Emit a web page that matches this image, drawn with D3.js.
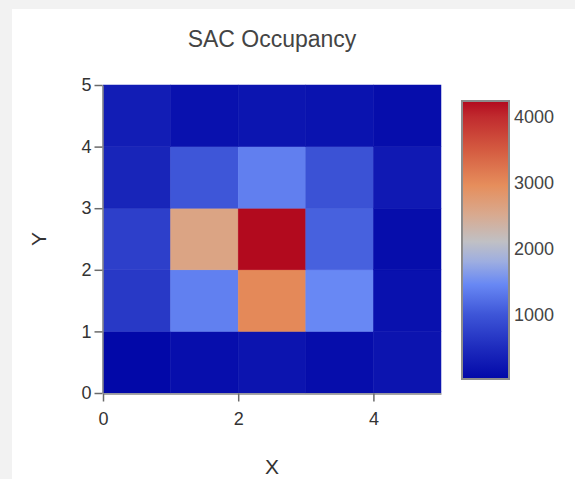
<!DOCTYPE html>
<html>
<head>
<meta charset="utf-8">
<script src="https://cdn.jsdelivr.net/npm/d3@7"></script>
<style>
  body { margin: 0; background: #f2f2f2; }
  svg { display: block; }
  text { font-family: "Liberation Sans", Arial, sans-serif; }
</style>
</head>
<body>
<svg id="chart" width="575" height="479"></svg>
<script>
// occupancy per cell, rows from y=0 (bottom) to y=4 (top), columns x=0..4
const xBins = [0, 1, 2, 3, 4]
const yBins = [0, 1, 2, 3, 4]
const occupancy = [
    [15, 100, 180, 80, 180],
    [660, 1380, 3000, 1450, 140],
    [730, 2600, 4232, 1100, 80],
    [400, 1000, 1370, 950, 250],
    [300, 140, 190, 160, 80],
]
const xTicks = [0, 2, 4]
const yTicks = [0, 1, 2, 3, 4, 5]
const cbTicks = [1000, 2000, 3000, 4000]

// colour stops (value -> colour)
const stopValues = [15, 500, 1000, 1450, 1800, 2100, 2500, 2950, 3500, 4000, 4232]
const stopColors = ["#0208a8", "#1e2cbe", "#3e56d8", "#6888f4", "#9eaee0", "#c0c0c4",
    "#d8aa90", "#e68e5c", "#d45a40", "#c02a2e", "#b20a1e"]

const cmin = d3.min(occupancy.flat())
const cmax = d3.max(occupancy.flat())

const color = d3.scaleLinear()
    .domain(stopValues)
    .range(stopColors)
    .interpolate(d3.interpolateRgb)
    .clamp(true)

const svg = d3.select("#chart")

// white panel
svg.append("rect")
    .attr("x", 12).attr("y", 9)
    .attr("width", 563).attr("height", 470)
    .attr("fill", "#fff")

const plot = { left: 103, right: 441, top: 85, bottom: 393 }

const x = d3.scaleLinear().domain([0, 5]).range([plot.left, plot.right])
const y = d3.scaleLinear().domain([0, 5]).range([plot.bottom, plot.top])

var cells = []
yBins.forEach((yb, j) => {
    xBins.forEach((xb, i) => {
        cells.push({ x: xb, y: yb, v: occupancy[j][i] })
    })
})

svg.append("g")
    .selectAll("rect")
    .data(cells)
    .enter()
    .append("rect")
    .attr("x", d => x(d.x))
    .attr("y", d => y(d.y + 1))
    .attr("width", d => x(d.x + 1) - x(d.x))
    .attr("height", d => y(d.y) - y(d.y + 1))
    .attr("fill", d => color(d.v))
    .attr("stroke", d => color(d.v))
    .attr("stroke-width", 0.5)

// axes
const xAxis = svg.append("g")
    .attr("transform", "translate(0," + (plot.bottom + 0.5) + ")")
    .call(d3.axisBottom(x).tickValues(xTicks).tickFormat(d3.format("d")).tickSize(8).tickSizeOuter(0))
const yAxis = svg.append("g")
    .attr("transform", "translate(" + (plot.left - 0.5) + ",0)")
    .call(d3.axisLeft(y).tickValues(yTicks).tickFormat(d3.format("d")).tickSize(8).tickSizeOuter(0))

;[xAxis, yAxis].forEach(ax => {
    ax.select(".domain").attr("stroke", "#8a8a8a").attr("stroke-width", 1.5)
    ax.selectAll(".tick line").attr("stroke", "#6a6a6a").attr("stroke-width", 1.5)
    ax.selectAll(".tick text")
        .attr("fill", "#333")
        .style("font-size", "18px")
        .style("font-family", "'Liberation Sans', Arial, sans-serif")
})
xAxis.selectAll(".tick text").attr("dy", "0.72em").attr("y", 19)
yAxis.selectAll(".tick text").attr("x", -11)

// title and axis labels
svg.append("text")
    .attr("x", (plot.left + plot.right) / 2)
    .attr("y", 47)
    .attr("text-anchor", "middle")
    .attr("fill", "#444")
    .style("font-size", "23px")
    .text("SAC Occupancy")

svg.append("text")
    .attr("x", (plot.left + plot.right) / 2)
    .attr("y", 474)
    .attr("text-anchor", "middle")
    .attr("fill", "#333")
    .style("font-size", "21px")
    .text("X")

svg.append("text")
    .attr("transform", "translate(45.5," + (plot.top + plot.bottom) / 2 + ") rotate(-90)")
    .attr("text-anchor", "middle")
    .attr("fill", "#333")
    .style("font-size", "21px")
    .text("Y")

// colour bar
const cb = { left: 462, width: 47, top: 101, bottom: 379 }
const cy = d3.scaleLinear().domain([cmin, cmax]).range([cb.bottom, cb.top])

const grad = svg.append("defs").append("linearGradient")
    .attr("id", "cbgrad")
    .attr("x1", 0).attr("y1", 1).attr("x2", 0).attr("y2", 0)
grad.selectAll("stop")
    .data(stopValues)
    .enter()
    .append("stop")
    .attr("offset", d => (d - cmin) / (cmax - cmin))
    .attr("stop-color", (d, i) => stopColors[i])

svg.append("rect")
    .attr("x", cb.left).attr("y", cb.top)
    .attr("width", cb.width).attr("height", cb.bottom - cb.top)
    .attr("fill", "url(#cbgrad)")
    .attr("stroke", "#8c8c8c")
    .attr("stroke-width", 2)

svg.append("g")
    .selectAll("text")
    .data(cbTicks)
    .enter()
    .append("text")
    .attr("x", 514)
    .attr("y", d => cy(d))
    .attr("dy", "0.36em")
    .attr("fill", "#444")
    .style("font-size", "18px")
    .text(d => d)
</script>
</body>
</html>
